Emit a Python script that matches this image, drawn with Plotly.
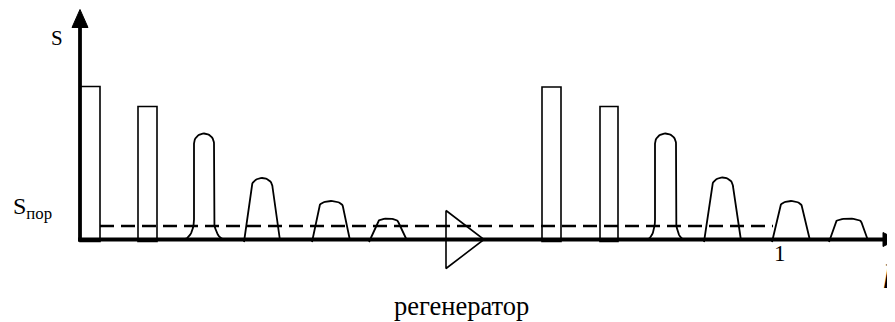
import numpy as np
import plotly.graph_objects as go

# ---- data (units: horizontal distance l, signal level S) ----
bar_center = [10, 67.5, 471.5, 529]
bar_width = [20, 19, 19, 18]
bar_height = [153, 133, 152.5, 133]

# pulses: centre, peak height, bottom half-width, top half-width, arch height
pulse_center = [124, 182, 251, 308, 585.5, 642.5, 711, 768.5]
pulse_height = [106, 61.5, 38.5, 21, 106, 62, 38.5, 21]
pulse_wbot = [21, 18, 19, 19, 19, 18.5, 19, 19.5]
pulse_wtop = [10, 10.5, 12, 10.5, 10.5, 10.5, 11, 13]
pulse_arch = [10, 9, 6, 4, 10, 9, 6, 4]
pulse_narrow = [True, False, False, False, True, False, False, False]

threshold_level = 13.5
threshold_start = 20
threshold_end = 693

regen_x = 366
regen_len = 38
regen_half = 29

x_axis_end = 817
y_axis_end = 230
tick_one = 700

FONT = "Liberation Serif"

fig = go.Figure()

# rectangular (regenerated) pulses
fig.add_trace(go.Bar(
    x=bar_center, y=[h + 2 for h in bar_height], base=-2, width=bar_width,
    marker=dict(color="rgba(0,0,0,0)", line=dict(color="black", width=1.6)),
    showlegend=False, hoverinfo="skip"))


def pulse_outline(c, h, wb, wt, k, narrow):
    t = np.linspace(np.pi, 0, 25)
    arch_x = c + wt * np.cos(t)
    arch_y = (h - k) + k * np.sin(t)
    if narrow:
        foot = 20
        s = np.linspace(0, np.pi / 2, 12)
        lx = (c - wb) + (wb - wt) * np.sin(s)
        ly = foot * (1 - np.cos(s))
        rx = (c + wb) - (wb - wt) * np.sin(s[::-1])
        ry = foot * (1 - np.cos(s[::-1]))
        xs = np.concatenate([lx, [c - wt], arch_x, [c + wt], rx])
        ys = np.concatenate([ly, [h - k], arch_y, [foot], ry])
    else:
        xs = np.concatenate([[c - wb], arch_x, [c + wb]])
        ys = np.concatenate([[-2.5], arch_y, [-1]])
    return xs, ys


for c, h, wb, wt, k, nr in zip(pulse_center, pulse_height, pulse_wbot,
                               pulse_wtop, pulse_arch, pulse_narrow):
    xs, ys = pulse_outline(c, h, wb, wt, k, nr)
    fig.add_trace(go.Scatter(x=xs, y=ys, mode="lines",
                             line=dict(color="black", width=1.8),
                             showlegend=False, hoverinfo="skip"))

# threshold
fig.add_trace(go.Scatter(x=[threshold_start, threshold_end],
                         y=[threshold_level, threshold_level], mode="lines",
                         line=dict(color="black", width=2.5, dash="14px,7px"),
                         showlegend=False, hoverinfo="skip"))

# regenerator triangle
fig.add_trace(go.Scatter(
    x=[regen_x, regen_x + regen_len, regen_x, regen_x],
    y=[regen_half, 0, -regen_half, regen_half], mode="lines",
    line=dict(color="black", width=1.6), showlegend=False, hoverinfo="skip"))

# axes
fig.add_trace(go.Scatter(x=[-2, x_axis_end - 12], y=[0, 0], mode="lines",
                         line=dict(color="black", width=3.8),
                         showlegend=False, hoverinfo="skip"))
fig.add_trace(go.Scatter(x=[0, 0], y=[-2, y_axis_end - 14], mode="lines",
                         line=dict(color="black", width=3.8),
                         showlegend=False, hoverinfo="skip"))
fig.add_trace(go.Scatter(
    x=[x_axis_end - 14, x_axis_end, x_axis_end - 14, x_axis_end - 14],
    y=[7, 0, -7, 7], mode="lines", fill="toself", fillcolor="black",
    line=dict(color="black", width=1), showlegend=False, hoverinfo="skip"))
fig.add_trace(go.Scatter(
    x=[-8, 0, 8, -8],
    y=[y_axis_end - 18, y_axis_end, y_axis_end - 18, y_axis_end - 18],
    mode="lines", fill="toself", fillcolor="black",
    line=dict(color="black", width=1), showlegend=False, hoverinfo="skip"))

# axis name "l" (italic)
fig.add_trace(go.Scatter(
    x=[807], y=[-40], mode="text", text=["l"],
    textfont=dict(family=FONT, size=34, color="black", style="italic"),
    textposition="middle center", showlegend=False, hoverinfo="skip",
    cliponaxis=False))

ann = [
    dict(x=-23, y=201.5, text="S", font=dict(size=21)),
    dict(x=-48, y=32, text="S<sub>пор</sub>", font=dict(size=24)),
    dict(x=tick_one, y=-14, text="1", font=dict(size=23)),
    dict(x=381, y=-66, text="регенератор", font=dict(size=26.5)),
]
for a in ann:
    a["font"]["family"] = FONT
    a["font"]["color"] = "black"
    fig.add_annotation(showarrow=False, xref="x", yref="y", **a)

# the page body adds an 8px margin; ranges are offset to compensate
fig.update_layout(
    width=895, height=322, margin=dict(l=0, r=0, t=0, b=0),
    paper_bgcolor="white", plot_bgcolor="white", barmode="overlay",
    xaxis=dict(range=[-72, 823], visible=False, fixedrange=True),
    yaxis=dict(range=[-90.5, 231.5], visible=False, fixedrange=True),
)

fig.write_html("out.html", config={"displayModeBar": False})
